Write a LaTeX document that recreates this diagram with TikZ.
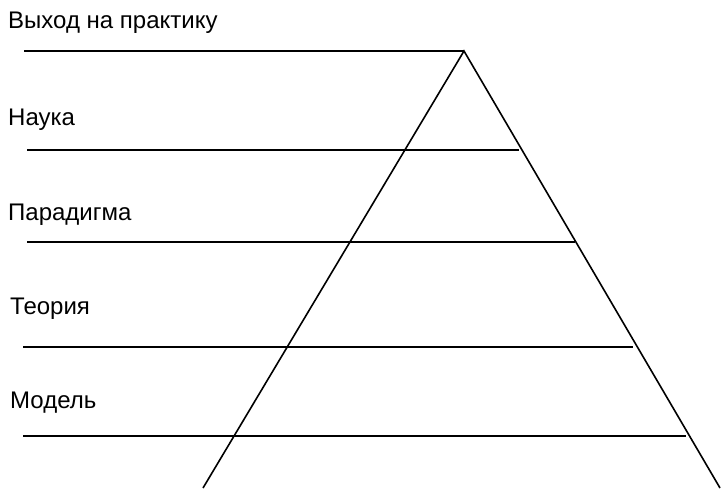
\documentclass[tikz,border=0pt]{standalone}
\usepackage{fontspec}
\setmainfont{Liberation Sans}
\begin{document}
\begin{tikzpicture}[x=1pt,y=-1pt,
  lbl/.style={anchor=base west,inner sep=0pt,font=\fontsize{24}{28}\selectfont},
  ln/.style={line width=1.6pt,black}]
\useasboundingbox (0,0) rectangle (721,488);
% triangle
\coordinate (apex) at (464,51);
\coordinate (bl) at (203,488);
\coordinate (br) at (720,488);
\draw[ln] (bl) -- (apex) -- (br);
% levels
\coordinate (a1) at (24,51);
\coordinate (a2) at (27,150);  \coordinate (b2) at (519,150);
\coordinate (a3) at (27,242);  \coordinate (b3) at (575,242);
\coordinate (a4) at (23,347);  \coordinate (b4) at (633,347);
\coordinate (a5) at (23,436);  \coordinate (b5) at (686,436);
\draw[ln] (a1) -- (apex);
\draw[ln] (a2) -- (b2);
\draw[ln] (a3) -- (b3);
\draw[ln] (a4) -- (b4);
\draw[ln] (a5) -- (b5);
% labels
\node[lbl] (t1) at (8,28) {Выход на практику};
\node[lbl] (t2) at (8,125) {Наука};
\node[lbl] (t3) at (8,220) {Парадигма};
\node[lbl] (t4) at (10,314) {Теория};
\node[lbl] (t5) at (10,408) {Модель};
\end{tikzpicture}
\end{document}
